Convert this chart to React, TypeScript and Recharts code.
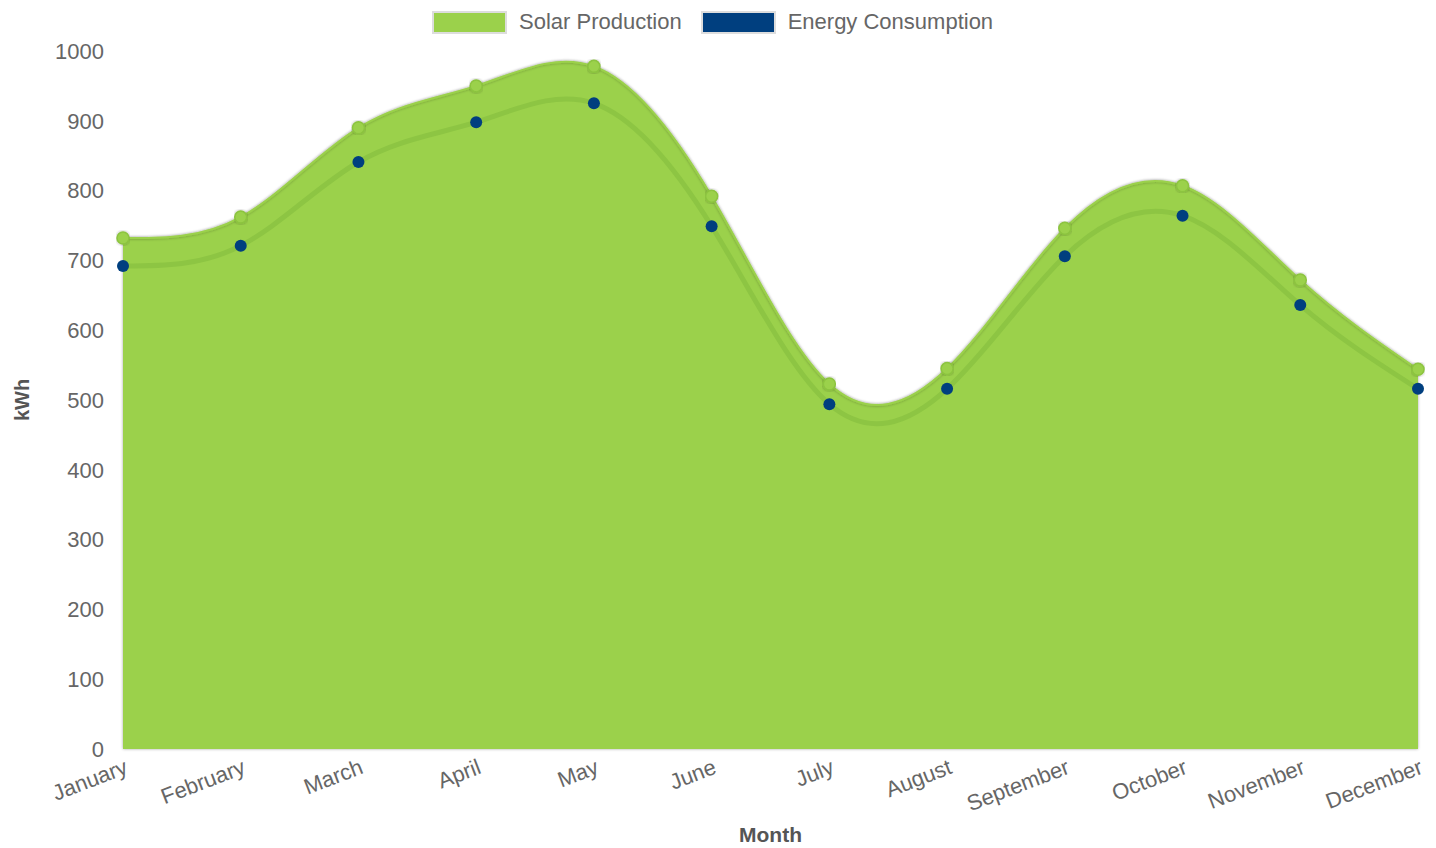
import React from 'react';
import { ComposedChart, Area, Line, XAxis, YAxis, Label } from 'recharts';

const months = ['January', 'February', 'March', 'April', 'May', 'June', 'July', 'August', 'September', 'October', 'November', 'December'];
const solarProduction = [732, 762, 890, 950, 978, 792, 523, 545, 746, 807, 672, 544];
const energyConsumption = [692, 721, 841, 898, 925, 749, 494, 516, 706, 764, 636, 516];
const yTicks = [0, 100, 200, 300, 400, 500, 600, 700, 800, 900, 1000];

const GREEN = '#9bd14b';
const NAVY = '#003f7f';
const FONT = '"Liberation Sans", Arial, sans-serif';

const chartData = months.map((m, i) => ({
  month: m,
  solar: solarProduction[i],
  consumption: energyConsumption[i],
}));

const MonthTick = ({ x, y, payload }: any) => (
  <g transform={`translate(${x},${y})`}>
    <text
      x={0}
      y={0}
      dy={17}
      textAnchor="end"
      fill="#666"
      fontSize={22}
      fontFamily={FONT}
      transform="rotate(-21)"
    >
      {payload.value}
    </text>
  </g>
);

const LegendBox = ({ color, label }: { color: string; label: string }) => (
  <div style={{ display: 'flex', alignItems: 'center', marginRight: 19 }}>
    <div style={{ width: 75, height: 23, background: color, border: '2px solid #ddd', boxSizing: 'border-box', marginRight: 12 }} />
    <span style={{ fontSize: 22, color: '#666', fontFamily: FONT }}>{label}</span>
  </div>
);

const App: React.FC = () => {
  return (
    <div style={{ position: 'absolute', left: 0, top: 0, width: 1436, height: 848, background: '#fff' }}>
      <div style={{ position: 'absolute', top: 9, left: 432, display: 'flex' }}>
        <LegendBox color={GREEN} label="Solar Production" />
        <LegendBox color={NAVY} label="Energy Consumption" />
      </div>
      <ComposedChart
        width={1436}
        height={848}
        data={chartData}
        margin={{ top: 51, right: 18, bottom: 0, left: 50 }}
      >
        <defs>
          <filter id="areaShadow" x="-5%" y="-10%" width="110%" height="120%">
            <feDropShadow dx="0" dy="0" stdDeviation="1.5" floodColor="#000" floodOpacity="0.35" />
          </filter>
        </defs>
        <XAxis
          dataKey="month"
          axisLine={false}
          tickLine={false}
          tick={<MonthTick />}
          interval={0}
          height={99}
        >
          <Label value="Month" position="insideBottom" offset={6} fill="#555" fontSize={21} fontWeight="bold" fontFamily={FONT} />
        </XAxis>
        <YAxis
          domain={[0, 1000]}
          ticks={yTicks}
          axisLine={false}
          tickLine={false}
          width={73}
          tick={{ fill: '#666', fontSize: 22, fontFamily: FONT }}
          tickMargin={13}
        >
          <Label value="kWh" angle={-90} position="insideLeft" offset={-28} fill="#555" fontSize={20} fontWeight="bold" fontFamily={FONT} style={{ textAnchor: 'middle' }} />
        </YAxis>
        <Area
          type="natural"
          dataKey="solar"
          name="Solar Production"
          stroke={GREEN}
          strokeWidth={2}
          fill={GREEN}
          fillOpacity={1}
          filter="url(#areaShadow)"
          dot={{ r: 6, fill: GREEN, stroke: '#8cc43f', strokeWidth: 1.5 }}
          activeDot={false}
          isAnimationActive={false}
        />
        <Line
          type="natural"
          dataKey="consumption"
          name="Energy Consumption"
          stroke="#8dc543"
          strokeWidth={5}
          dot={{ r: 6, fill: NAVY, stroke: NAVY, strokeWidth: 0 }}
          activeDot={false}
          isAnimationActive={false}
        />
      </ComposedChart>
    </div>
  );
};

export default App;
